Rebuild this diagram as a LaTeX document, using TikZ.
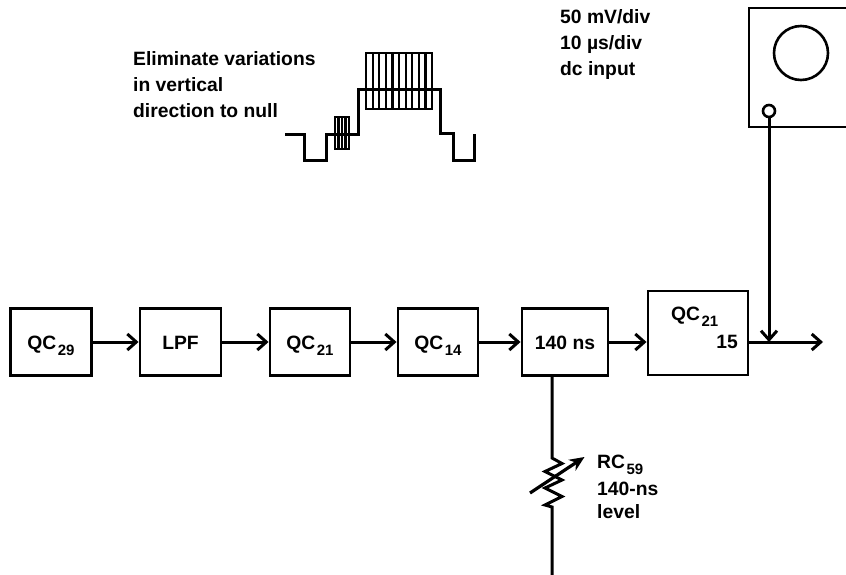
\documentclass[tikz,border=0pt]{standalone}
\usepackage{fontspec}
\setmainfont{Liberation Sans}
\usetikzlibrary{arrows.meta,positioning}
\newcommand{\sbs}[1]{\kern1.5pt\raisebox{-6pt}{\fontsize{15}{15}\selectfont #1}}
\tikzset{
 lab/.style={font=\fontsize{19.3}{26}\selectfont\bfseries,inner sep=0pt,align=left,text=black},
 blk/.style={draw=black,line width=2.9pt,minimum height=67pt,inner sep=0pt,text height=15pt,text depth=0pt,font=\fontsize{19.3}{24}\selectfont\bfseries,fill=white},
 conn/.style={line width=3pt,-{Straight Barb[length=9pt,width=16pt,line width=3pt]}},
 wire/.style={line width=3pt},
 wave/.style={line width=3pt},
 hatch/.style={line width=2.2pt},
}
\begin{document}
\begin{tikzpicture}[x=1pt,y=-1pt]
\useasboundingbox (0,0) rectangle (846,575);
% blocks
\node[blk,minimum width=81pt] (a) at (51,342) {QC\sbs{29}};
\node[blk,minimum width=81pt] (b) at (180.5,342) {LPF};
\node[blk,minimum width=80pt] (c) at (310,342) {QC\sbs{21}};
\node[blk,minimum width=80pt] (d) at (438,342) {QC\sbs{14}};
\node[blk,minimum width=86pt] (e) at (565,342) {140 ns};
\node[blk,minimum width=100pt,minimum height=84pt] (f) at (698,333) {};
\node[lab,anchor=base west] (fa) at (671,320) {QC\sbs{21}};
\node[lab,anchor=base east] (fb) at (738,348) {15};
\coordinate (fin) at (f.west |- 0,342);
\coordinate (fout) at (f.east |- 0,342);
\coordinate (out) at (823,342);
\coordinate (join) at (769,342);
\draw[conn] (a.east) -- (b.west);
\draw[conn] (b.east) -- (c.west);
\draw[conn] (c.east) -- (d.west);
\draw[conn] (d.east) -- (e.west);
\draw[conn] (e.east) -- (fin);
\draw[conn] (fout) -- (out);
% scope
\draw[line width=2.9pt] (846,8) -- (749,8) -- (749,127) -- (846,127);
\node[circle,draw=black,line width=2.6pt,minimum size=54pt,inner sep=0pt] (crt) at (801,53) {};
\node[circle,draw=black,line width=2.6pt,minimum size=12pt,inner sep=0pt] (probe) at (769,111) {};
\draw[conn] (probe.south) -- (join);
% resistor
\coordinate (rtop) at (552,458);
\coordinate (rbot) at (552,507);
\coordinate (rend) at (552,575);
\draw[wire] (e.south -| rtop) -- (rtop) -- (562,463.5) -- (545,471.5) -- (562,480) -- (545,488) -- (562,496.5) -- (545,505) -- (rbot) -- (rend);
\coordinate (atail) at (530,493);
\coordinate (ahead) at (584.5,457);
\draw[line width=3.2pt,-{Stealth[length=15pt,width=13pt]}] (atail) -- (ahead);
\node[lab,anchor=north west] (rl) at (597,455) {RC\sbs{59}\\[1pt]140-ns\\[-3pt]level};
% texts
\node[lab,anchor=north west] (t1) at (133,51) {Eliminate variations\\in vertical\\direction to null};
\node[lab,anchor=north west] (t2) at (560,9.5) {50 mV/div\\10 µs/div\\dc input};
% waveform
\draw[wave] (285,135) -- (304,135) -- (304,161) -- (326,161) -- (326,135) -- (358,135) -- (358,90) -- (440,90) -- (440,134) -- (453,134) -- (453,161) -- (474,161) -- (474,134);
\draw[hatch] (366,53) rectangle (432,109);
\foreach \x in {372.6,379.2,385.8,392.4,399,405.6,412.2,418.8,425.4}{\draw[hatch] (\x,53) -- (\x,109);}
\draw[hatch] (335,117) rectangle (349,149);
\foreach \x in {338.5,342,345.5}{\draw[hatch] (\x,117) -- (\x,149);}
\end{tikzpicture}
\end{document}
